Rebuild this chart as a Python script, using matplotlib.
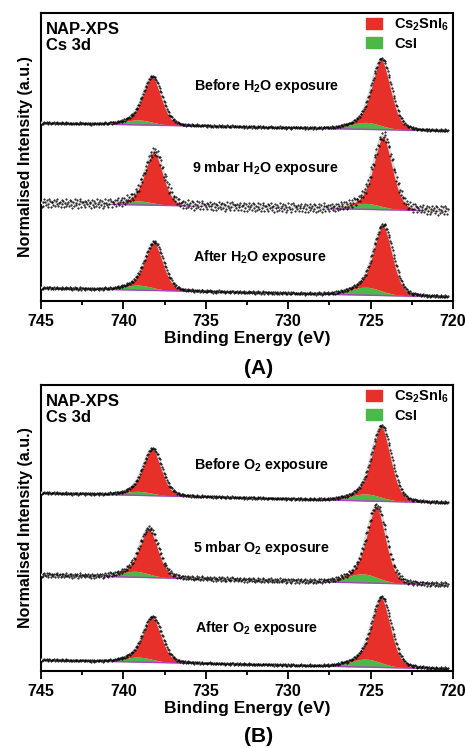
import numpy as np
import matplotlib
matplotlib.use("Agg")
import matplotlib.pyplot as plt
from matplotlib.patches import Patch

plt.rcParams['font.family'] = ['Liberation Sans', 'DejaVu Sans']
plt.rcParams['font.weight'] = 'bold'
plt.rcParams['axes.labelweight'] = 'bold'
plt.rcParams['mathtext.fontset'] = 'custom'
plt.rcParams['mathtext.rm'] = 'Liberation Sans:bold'
plt.rcParams['mathtext.it'] = 'Liberation Sans:bold'
plt.rcParams['mathtext.bf'] = 'Liberation Sans:bold'
plt.rcParams['mathtext.default'] = 'rm'

# ---- data (y in stacked, arbitrary units) ----
xticks = [745, 740, 735, 730, 725, 720]

# panel A : H2O
labels_A = ["Before H$_2$O exposure", "9 mbar H$_2$O exposure", "After H$_2$O exposure"]
bg_left_A = [178, 98, 13]
bg_right_A = [170, 90, 4]
cs2sni6_pos_A = [[738.2, 724.3], [738.1, 724.2], [738.1, 724.2]]
cs2sni6_h_A = [[46, 67], [52, 71], [46, 67]]
csi_pos_A = [[739.1, 725.3], [739.1, 725.3], [739.1, 725.3]]
csi_h_A = [[5, 7], [4, 6], [5, 8]]
noise_A = [1.0, 4.5, 1.2]

# panel B : O2
labels_B = ["Before O$_2$ exposure", "5 mbar O$_2$ exposure", "After O$_2$ exposure"]
bg_left_B = [178, 96, 11]
bg_right_B = [168, 86, 2]
cs2sni6_pos_B = [[738.2, 724.3], [738.4, 724.6], [738.2, 724.3]]
cs2sni6_h_B = [[45, 72], [46, 72], [43, 66]]
csi_pos_B = [[739.1, 725.3], [739.3, 725.5], [739.1, 725.3]]
csi_h_B = [[4, 7], [6, 9], [5, 8]]
noise_B = [1.0, 2.2, 1.0]

# hand typed scatter pattern for the measured points
jitter = [0.3, -0.8, 0.5, 1.0, -0.2, -0.9, 0.7, -0.4, 0.1, 0.9, -0.6, 0.2,
          -1.0, 0.6, -0.3, 0.8, -0.7, 0.4, -0.1, 0.95, -0.5, 0.15, -0.85, 0.55,
          -0.25, 0.75, -0.95, 0.35, 0.05, -0.65, 0.85, -0.15, 0.45, -0.75, 0.65,
          -0.35, 0.25]

energy = np.arange(720.3, 744.95, 0.05)


def peak(x, c, h, fwhm, eta=0.3):
    g = np.exp(-4 * np.log(2) * (x - c) ** 2 / fwhm ** 2)
    l = 1 / (1 + 4 * (x - c) ** 2 / fwhm ** 2)
    return h * ((1 - eta) * g + eta * l)


def draw_panel(ax, labels, bgl, bgr, rpos, rh, gpos, gh, noise, label_xy):
    for i in range(3):
        bg = bgl[i] + (bgr[i] - bgl[i]) * (744.95 - energy) / (744.95 - 720.3)
        green = peak(energy, gpos[i][0], gh[i][0], 2.0, 0.1) + peak(energy, gpos[i][1], gh[i][1], 2.2, 0.1)
        red = peak(energy, rpos[i][0], rh[i][0], 1.35, 0.2) + peak(energy, rpos[i][1], rh[i][1], 1.4, 0.2)
        env = bg + green + red
        ax.fill_between(energy, bg, bg + green, color='#4cb848', lw=0, zorder=2)
        ax.fill_between(energy, bg + green, env, color='#e8302a', lw=0, zorder=2)
        ax.plot(energy, bg, color='#b040c8', lw=1.0, zorder=3)
        ax.plot(energy, env, color='#dcdcdc', lw=1.8, zorder=3)
        j = np.resize(jitter, len(energy)) * noise[i]
        ax.plot(energy, env + j, 'k.', ms=1.0, zorder=4)
        ax.text(label_xy[i][0], label_xy[i][1], labels[i], ha='center', va='center',
                fontsize=10.3, fontweight='bold')

    ax.set_xlim(745, 720)
    ax.set_xticks(xticks, labels=[str(t) for t in xticks], fontweight='bold')
    ax.set_xticks(np.arange(720, 746, 2.5), minor=True)
    ax.set_yticks([])
    ax.tick_params(axis='x', which='major', length=6, width=1.3, labelsize=11.5, direction='out')
    ax.tick_params(axis='x', which='minor', length=3, width=1.3, direction='out')
    for s in ax.spines.values():
        s.set_linewidth(1.5)
    ax.set_xlabel("Binding Energy (eV)", fontsize=12.5, fontweight='bold', labelpad=1)
    ax.set_ylabel("Normalised Intensity (a.u.)", fontsize=11.5, fontweight='bold', labelpad=6)
    ax.text(0.012, 0.97, "NAP-XPS\nCs 3d", transform=ax.transAxes, ha='left', va='top',
            fontsize=12, fontweight='bold', linespacing=1.15)
    handles = [Patch(color='#e8302a', label="Cs$_2$SnI$_6$"), Patch(color='#4cb848', label="CsI")]
    leg = ax.legend(handles=handles, loc='upper right', frameon=False, fontsize=10.5,
                    handlelength=1.1, handleheight=0.7, borderaxespad=0.0, borderpad=0.25,
                    labelspacing=0.25, handletextpad=0.8)
    for t in leg.get_texts():
        t.set_fontweight('bold')


fig = plt.figure(figsize=(4.65, 7.48), dpi=100)
axA = fig.add_axes([0.088, 0.5976, 0.886, 0.385])
axB = fig.add_axes([0.088, 0.103, 0.886, 0.3823])
axA.set_ylim(0, 288)
axB.set_ylim(0, 286)

draw_panel(axA, labels_A, bg_left_A, bg_right_A, cs2sni6_pos_A, cs2sni6_h_A,
           csi_pos_A, csi_h_A, noise_A, [(731.3, 215), (731.4, 133), (731.7, 44)])
draw_panel(axB, labels_B, bg_left_B, bg_right_B, cs2sni6_pos_B, cs2sni6_h_B,
           csi_pos_B, csi_h_B, noise_B, [(731.6, 206), (731.6, 123), (731.9, 43)])

fig.text(0.555, 0.508, "(A)", ha='center', va='center', fontsize=15, fontweight='bold')
fig.text(0.555, 0.015, "(B)", ha='center', va='center', fontsize=15, fontweight='bold')

fig.savefig("out.png", dpi=100)
